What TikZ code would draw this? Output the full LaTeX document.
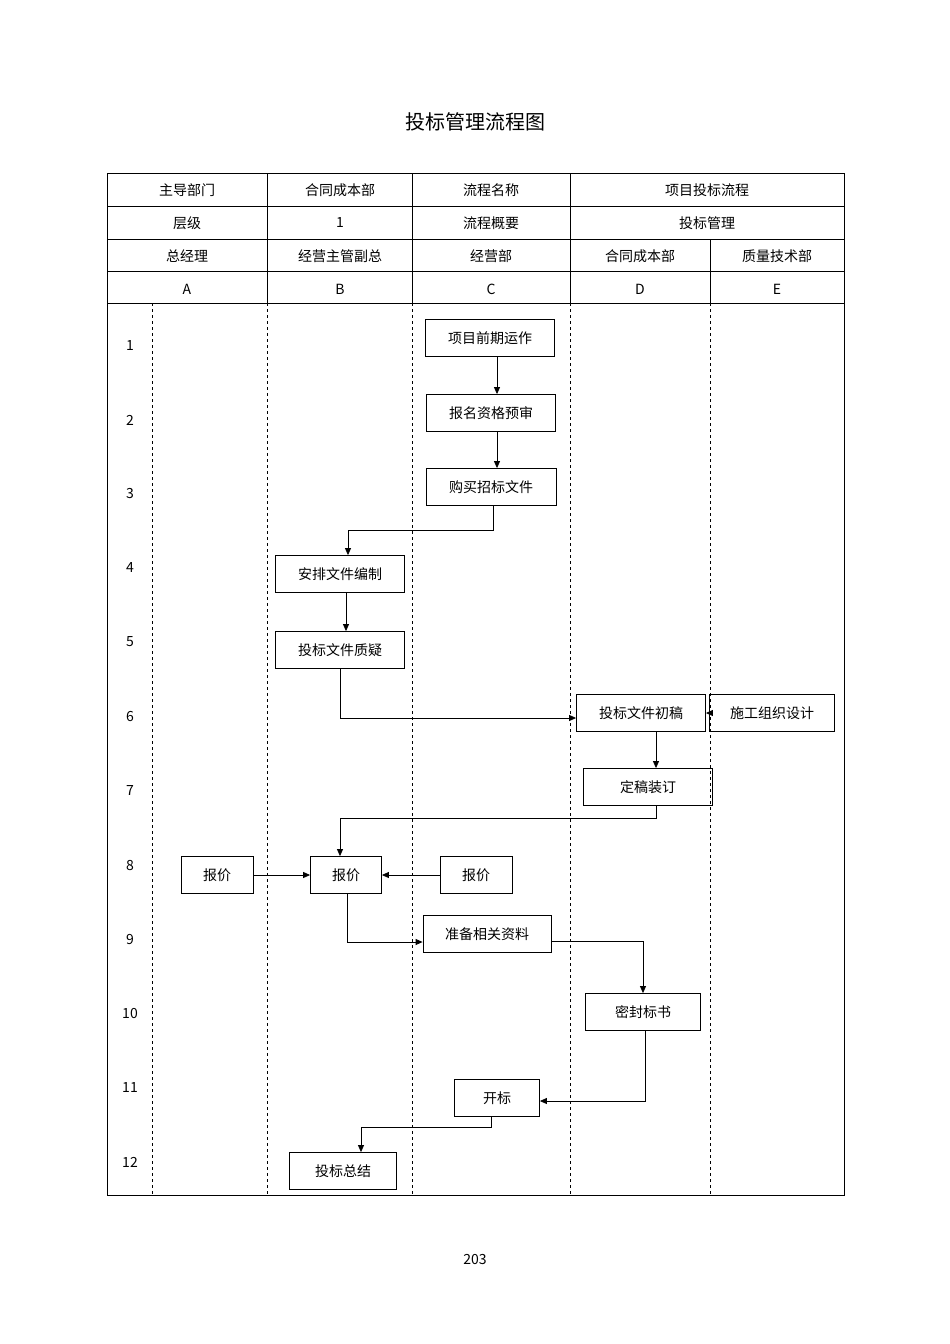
\documentclass[tikz,border=0pt]{standalone}
\usepackage{fontspec}
\setmainfont{Noto Sans CJK SC}
\usetikzlibrary{arrows.meta}
\begin{document}
\begin{tikzpicture}[x=1pt,y=-1pt,
  every node/.style={font=\fontsize{14}{16}\selectfont},
  bx/.style={draw,thick,minimum width=#1,minimum height=37pt,inner sep=0pt},
  arr/.style={thick,-{Triangle[length=7pt,width=6pt]}},
  dl/.style={dashed,thin}]
\useasboundingbox (0,0) rectangle (950,1344);
\node[font=\fontsize{20}{22}\selectfont] (title) at (475,122) {投标管理流程图};
\node (pg) at (475,1259) {203};
% table frame
\draw[thick] (107,173) rectangle (844,1195);
\foreach \y in {206,239,271,303} \draw (107,\y) -- (844,\y);
\foreach \x in {267,412,570} \draw (\x,173) -- (\x,303);
\draw (710,239) -- (710,303);
\foreach \x in {152,267,412,570,710} \draw[dl] (\x,303) -- (\x,1195);
% header texts
\node (h11) at (187,190) {主导部门}; \node (h12) at (340,190) {合同成本部};
\node (h13) at (491,190) {流程名称}; \node (h14) at (707,190) {项目投标流程};
\node (h21) at (187,223) {层级}; \node (h22) at (340,223) {1};
\node (h23) at (491,223) {流程概要}; \node (h24) at (707,223) {投标管理};
\node (h31) at (187,256) {总经理}; \node (h32) at (340,256) {经营主管副总};
\node (h33) at (491,256) {经营部}; \node (h34) at (640,256) {合同成本部};
\node (h35) at (777,256) {质量技术部};
\node (hA) at (187,289) {A}; \node (hB) at (340,289) {B}; \node (hC) at (491,289) {C};
\node (hD) at (640,289) {D}; \node (hE) at (777,289) {E};
\foreach \n/\y in {1/346,2/420,3/494,4/568,5/642,6/716,7/790,8/865,9/939,10/1013,11/1087,12/1162}
  \node (r\n) at (130,\y) {\n};
% boxes
\node[bx=129pt] (b1) at (490,338) {项目前期运作};
\node[bx=129pt] (b2) at (491,413) {报名资格预审};
\node[bx=130pt] (b3) at (491,487) {购买招标文件};
\node[bx=129pt] (b4) at (340,574) {安排文件编制};
\node[bx=129pt] (b5) at (340,650) {投标文件质疑};
\node[bx=129pt] (b6) at (641,713) {投标文件初稿};
\node[bx=125pt] (b7) at (772,713) {施工组织设计};
\node[bx=129pt] (b8) at (648,787) {定稿装订};
\node[bx=72pt] (pa) at (217,875) {报价};
\node[bx=71pt] (pb) at (346,875) {报价};
\node[bx=72pt] (pc) at (476,875) {报价};
\node[bx=128pt] (b9) at (487,934) {准备相关资料};
\node[bx=115pt] (b10) at (643,1012) {密封标书};
\node[bx=85pt] (b11) at (497,1098) {开标};
\node[bx=107pt] (b12) at (343,1171) {投标总结};
% connectors
\draw[arr] (b1.south -| 497,0) -- (b2.north -| 497,0);
\draw[arr] (b2.south -| 497,0) -- (b3.north -| 497,0);
\draw[arr] (b3.south -| 493,0) -- (493,530) -- (348,530) -- (b4.north -| 348,0);
\draw[arr] (b4.south -| 346,0) -- (b5.north -| 346,0);
\draw[arr] (b5.south) -- (340,718) -- (b6.west |- 0,718);
\draw[arr] (b7.west) -- (b6.east);
\draw[arr] (b6.south -| 656,0) -- (b8.north -| 656,0);
\draw[arr] (b8.south -| 656,0) -- (656,818) -- (340,818) -- (pb.north -| 340,0);
\draw[arr] (pa.east) -- (pb.west);
\draw[arr] (pc.west) -- (pb.east);
\draw[arr] (pb.south -| 347,0) -- (347,942) -- (b9.west |- 0,942);
\draw[arr] (b9.east |- 0,941) -- (643,941) -- (b10.north);
\draw[arr] (b10.south -| 645,0) -- (645,1101) -- (b11.east |- 0,1101);
\draw[arr] (b11.south -| 491,0) -- (491,1127) -- (361,1127) -- (b12.north -| 361,0);
\end{tikzpicture}
\end{document}
